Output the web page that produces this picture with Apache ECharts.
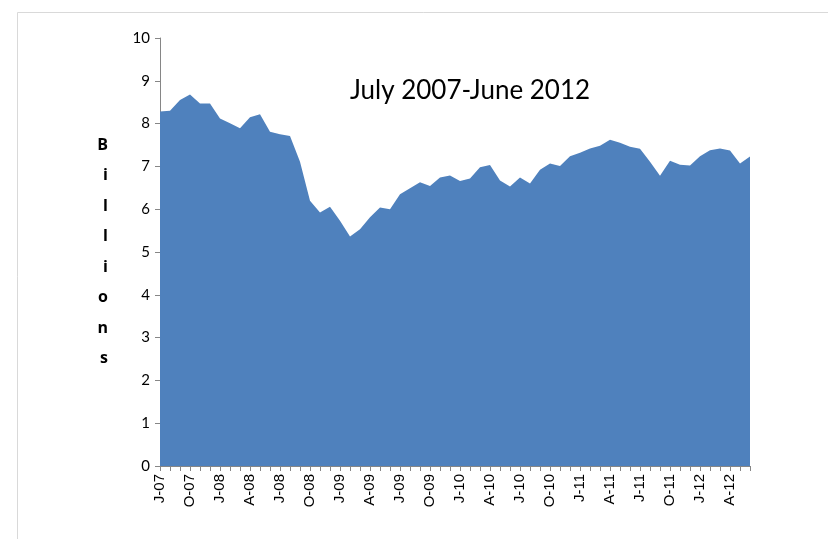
<!DOCTYPE html>
<html>
<head>
<meta charset="utf-8">
<script src="https://cdn.jsdelivr.net/npm/echarts@6/dist/echarts.min.js"></script>
<style>
html,body{margin:0;padding:0;background:#fff;}
#chart{width:828px;height:539px;}
</style>
</head>
<body>
<div id="chart"></div>
<script>
// Months July 2007 - June 2012, labelled by first letter of month and year
const monthLetters = ['J','F','M','A','M','J','J','A','S','O','N','D'];
const categories = [];
for (let i = 0; i < 60; i++) {
  const m = (6 + i) % 12;
  const y = 2007 + Math.floor((6 + i) / 12);
  categories.push(monthLetters[m] + '-' + String(y).slice(2));
}
const values = [
  8.28, 8.30, 8.55, 8.68, 8.47, 8.47, 8.12, 8.01, 7.89, 8.15,
  8.22, 7.81, 7.75, 7.71, 7.11, 6.20, 5.92, 6.06, 5.73, 5.36,
  5.53, 5.81, 6.04, 6.00, 6.35, 6.49, 6.63, 6.54, 6.74, 6.79,
  6.66, 6.72, 6.98, 7.03, 6.67, 6.53, 6.74, 6.60, 6.92, 7.07,
  7.01, 7.24, 7.32, 7.42, 7.48, 7.62, 7.55, 7.46, 7.41, 7.11,
  6.78, 7.13, 7.04, 7.02, 7.24, 7.38, 7.42, 7.37, 7.07, 7.23
];
const yTicks = [0,1,2,3,4,5,6,7,8,9,10];
const chartTitle = 'July 2007-June 2012';
const yName = 'Billions';

const chart = echarts.init(document.getElementById('chart'));
chart.setOption({
  animation: false,
  backgroundColor: '#fff',
  grid: {left: 160, right: 78, top: 38, bottom: 73, containLabel: false},
  graphic: [
    {type: 'rect', shape: {x: 17.5, y: 12.5, width: 900, height: 600},
     style: {fill: 'none', stroke: '#d9d9d9', lineWidth: 1}, silent: true},
    {type: 'text', x: 470, y: 91,
     style: {text: chartTitle, font: '26px Lato, "Open Sans", sans-serif', fill: '#000',
             textAlign: 'center', textVerticalAlign: 'middle'}}
  ],
  xAxis: {
    type: 'category',
    data: categories,
    boundaryGap: false,
    axisLine: {lineStyle: {color: '#868686', width: 1}},
    axisTick: {show: true, interval: 0, length: 5, lineStyle: {color: '#868686'}},
    axisLabel: {interval: 2, rotate: 90, margin: 8, color: '#000',
                fontFamily: '"Liberation Sans", Arial, sans-serif', fontSize: 15},
    splitLine: {show: false}
  },
  yAxis: {
    type: 'value',
    min: yTicks[0], max: yTicks[yTicks.length - 1], interval: 1,
    name: yName.split('').join('\n'),
    nameLocation: 'middle',
    nameRotate: 0,
    nameGap: 52,
    nameTextStyle: {fontFamily: '"Open Sans", Lato, sans-serif', fontWeight: 'bold',
                    fontSize: 16, lineHeight: 30.5, color: '#000', padding: [10, 0, 0, 0]},
    axisLine: {show: true, lineStyle: {color: '#868686', width: 1}},
    axisTick: {show: true, length: 5, lineStyle: {color: '#868686'}},
    axisLabel: {margin: 10, color: '#000', fontFamily: 'Lato, "Open Sans", sans-serif', fontSize: 15},
    splitLine: {show: false}
  },
  series: [{
    type: 'line',
    data: values,
    symbol: 'none',
    lineStyle: {width: 0},
    areaStyle: {color: '#4F81BD', opacity: 1},
    itemStyle: {color: '#4F81BD'}
  }]
});
</script>
</body>
</html>
